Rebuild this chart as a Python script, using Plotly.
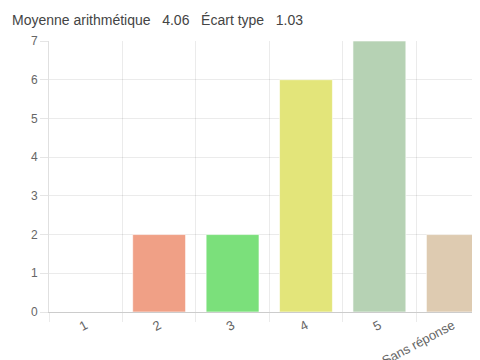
import plotly.graph_objects as go

categories = ["1", "2", "3", "4", "5", "Sans réponse"]
counts = [0, 2, 2, 6, 7, 2]
colors = ["#F0A086", "#F0A086", "#7BE07B", "#E3E57A", "#B6D2B4", "#DECBB1"]
y_ticks = [0, 1, 2, 3, 4, 5, 6, 7]
summary = "Moyenne arithmétique   4.06   Écart type   1.03"

xpos = list(range(len(categories)))
bounds = [i - 0.5 for i in range(len(categories) + 1)]

fig = go.Figure(go.Bar(
    x=xpos, y=counts, width=0.72,
    marker=dict(color=colors, line=dict(color="rgba(255,255,255,0.6)", width=1)),
))

fig.update_layout(
    width=472, height=352,
    margin=dict(l=41, r=0, t=33, b=48),
    paper_bgcolor="white", plot_bgcolor="white",
    showlegend=False,
    font=dict(family="Liberation Sans, Arial, sans-serif", color="#666", size=12),
    xaxis=dict(
        range=[-0.5, 5.37], tickvals=xpos, ticktext=categories,
        tickangle=-28, showgrid=False, ticks="", zeroline=False, automargin=False,
        showline=True, linecolor="#ccc", linewidth=1,
        tickfont=dict(size=13, color="#666"),
        minor=dict(tickvals=bounds, showgrid=True, gridcolor="rgba(0,0,0,0.08)",
                   ticks="outside", ticklen=9, tickcolor="rgba(0,0,0,0.08)"),
    ),
    yaxis=dict(
        range=[0, 7], tickvals=y_ticks, showgrid=True, gridcolor="rgba(0,0,0,0.08)",
        ticks="outside", ticklen=8, tickcolor="rgba(0,0,0,0.1)", automargin=False,
        zeroline=False, showline=True, linecolor="rgba(0,0,0,0.12)",
        tickfont=dict(size=12, color="#666"),
    ),
    annotations=[dict(
        text=summary, xref="paper", yref="paper",
        x=-39/431, y=(312-20)/271, xanchor="left", yanchor="middle",
        showarrow=False, font=dict(size=14, color="#444"),
    )],
)

fig.write_html("out.html")
